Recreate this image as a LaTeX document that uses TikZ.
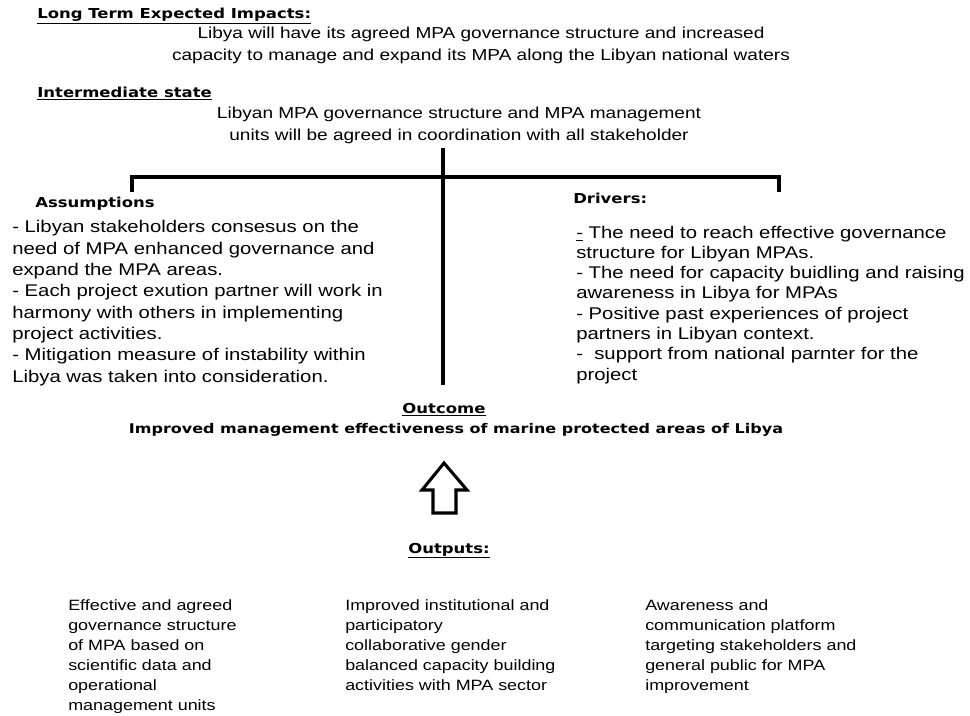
\documentclass[tikz,border=0pt]{standalone}
\usepackage{fontspec}
\setmainfont[FakeStretch=1.2]{Liberation Sans}
\newfontfamily\headfont[FakeStretch=1.2]{DejaVu Sans}
\usetikzlibrary{positioning}

\tikzset{
	HeadStyle/.style = {inner sep=0pt, font=\headfont\bfseries\fontsize{10.3}{13}\selectfont},
	TopStyle/.style = {inner sep=0pt, align=center, anchor=base, font=\fontsize{11.9}{16.5}\selectfont},
	SideStyle/.style = {inner sep=0pt, align=left, anchor=base west},
	OutStyle/.style = {inner sep=0pt, align=left, anchor=base west, font=\fontsize{11.2}{15}\selectfont},
	BarStyle/.style = {line width=3pt, black},
}

\begin{document}
\begin{tikzpicture}[x=0.75pt,y=-0.75pt]
	\path[use as bounding box] (0,0) rectangle (970,715);

	\node[HeadStyle, anchor=base west] (impact) at (37,18) {\underline{Long Term Expected Impacts:}};
	\node[TopStyle] (impacttxt) at (481,60) {Libya will have its agreed MPA governance structure and increased\\capacity to manage and expand its MPA along the Libyan national waters};

	\node[HeadStyle, anchor=base west] (inter) at (37,97) {\underline{Intermediate state}};
	\node[TopStyle] (intertxt) at (459,140) {Libyan MPA governance structure and MPA management\\units will be agreed in coordination with all stakeholder};

	\coordinate (stemT) at (443,148);
	\coordinate (stemB) at (443,385);
	\coordinate (barL) at (132,177);
	\coordinate (barR) at (779,177);
	\coordinate (tickL) at (132,192);
	\coordinate (tickR) at (779,192);
	\draw[BarStyle] (tickL) -- (barL) -- (barR) -- (tickR);
	\draw[BarStyle] (stemT) -- (stemB);

	\node[HeadStyle, anchor=base west] (assum) at (35,207) {Assumptions};
	\node[SideStyle, font=\fontsize{12.7}{16}\selectfont] (assumtxt) at (12,382) {- Libyan stakeholders consesus on the\\need of MPA enhanced governance and\\expand the MPA areas.\\- Each project exution partner will work in\\harmony with others in implementing\\project activities.\\- Mitigation measure of instability within\\Libya was taken into consideration.};

	\node[HeadStyle, anchor=base west] (drivers) at (573,203) {Drivers:};
	\node[SideStyle, font=\fontsize{12.7}{15.2}\selectfont] (driverstxt) at (576,380) {\underline{-} The need to reach effective governance\\structure for Libyan MPAs.\\- The need for capacity buidling and raising\\awareness in Libya for MPAs\\- Positive past experiences of project\\partners in Libyan context.\\-\ \ support from national parnter for the\\project};

	\node[HeadStyle, anchor=base] (outcome) at (444,413) {\underline{Outcome}};
	\node[HeadStyle, anchor=base, font=\headfont\bfseries\fontsize{10}{13}\selectfont] (outcometxt) at (456,433) {Improved management effectiveness of marine protected areas of Libya};

	\coordinate (arrowB) at (444,513);
	\draw[line width=2.3pt, line join=miter] (433,513) -- (433,490) -- (422,490) -- (444,463) -- (467,490) -- (456,490) -- (456,513) -- cycle;

	\node[HeadStyle, anchor=base] (outputs) at (449,553) {\underline{Outputs:}};
	\node[OutStyle] (out1) at (68,710) {Effective and agreed\\governance structure\\of MPA based on\\scientific data and\\operational\\management units};
	\node[OutStyle] (out2) at (345,690) {Improved institutional and\\participatory\\collaborative gender\\balanced capacity building\\activities with MPA sector};
	\node[OutStyle] (out3) at (645,690) {Awareness and\\communication platform\\targeting stakeholders and\\general public for MPA\\improvement};
\end{tikzpicture}
\end{document}
